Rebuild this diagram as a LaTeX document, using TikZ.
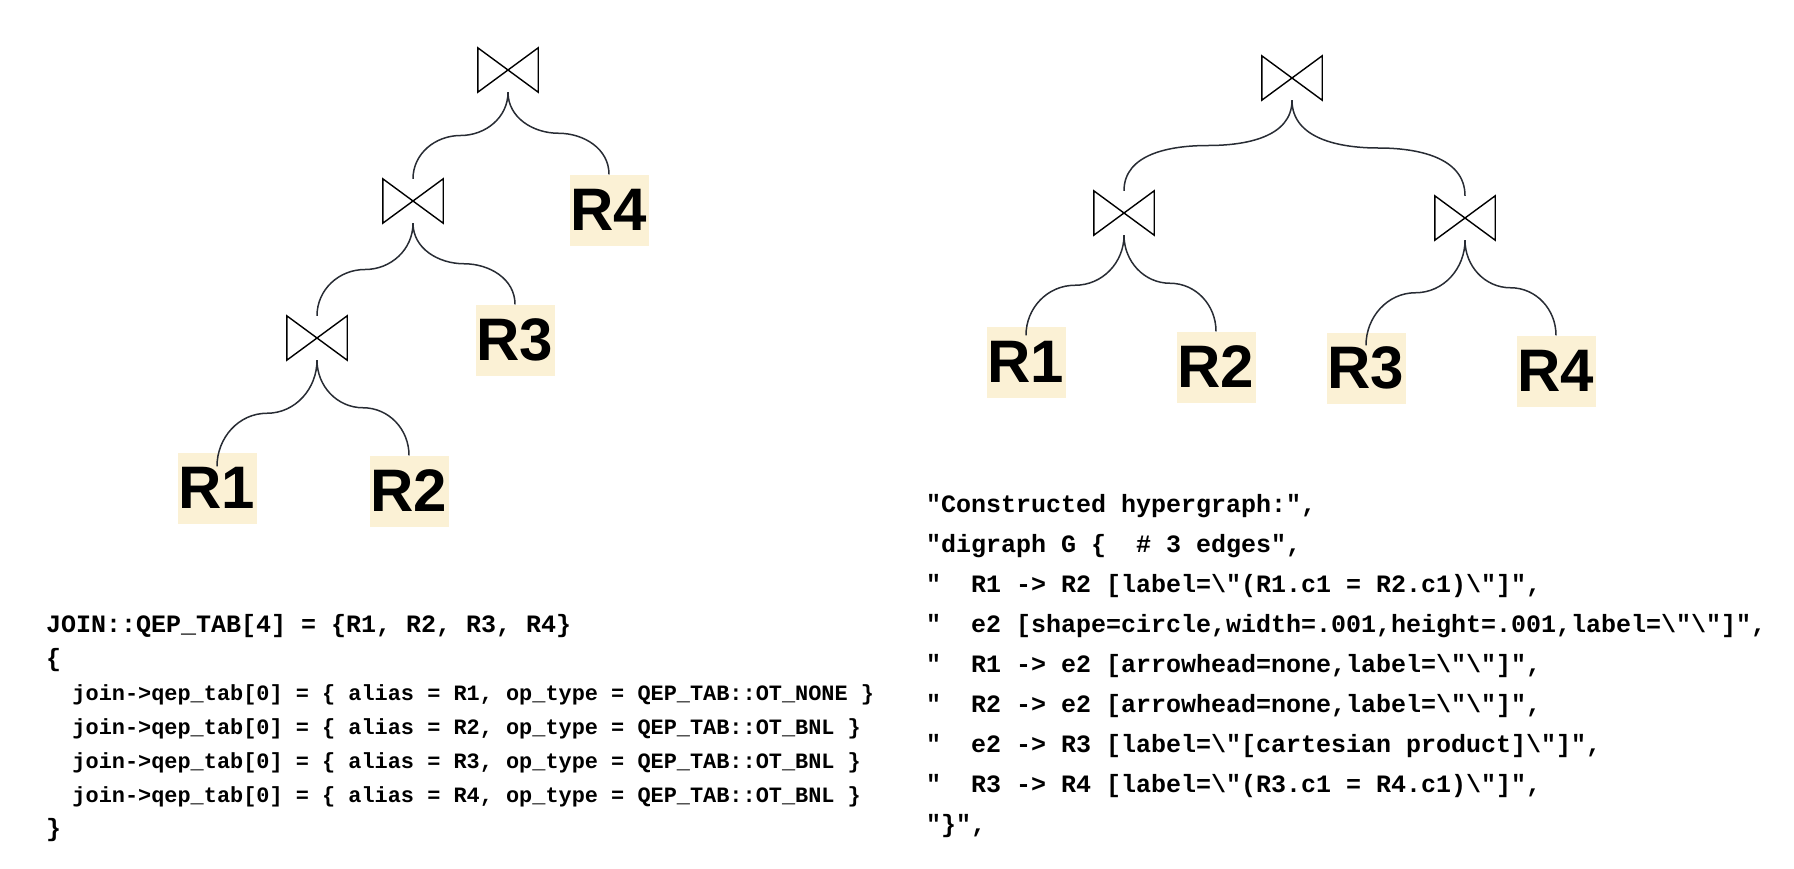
\documentclass[tikz,border=0pt]{standalone}
\usepackage{fontspec}
\setmainfont{Liberation Sans}
\newfontfamily\codefont{Liberation Mono}
\usetikzlibrary{calc}
\definecolor{relfill}{RGB}{251,241,213}
\definecolor{conncol}{RGB}{40,44,52}
\tikzset{
  rel/.style={fill=relfill, minimum width=79pt, minimum height=71pt, inner sep=0pt,
    font=\fontsize{60}{60}\selectfont\bfseries},
  joinop/.style={minimum width=60pt, minimum height=44pt, inner sep=0pt},
  bowline/.style={line width=1.4pt, line join=miter},
  conn/.style={line width=1.5pt, draw=conncol},
  codebig/.style={anchor=base west, inner sep=0pt, font=\codefont\bfseries\fontsize{25}{25}\selectfont},
  codesmall/.style={anchor=base west, inner sep=0pt, font=\codefont\bfseries\fontsize{21.9}{21.9}\selectfont},
}
\newcommand\leftbranch[2]{\draw[conn] (#1) to[out=-90,in=0] ($(#1)!.5!(#2)$) to[out=180,in=90] (#2);}
\newcommand\rightbranch[2]{\draw[conn] (#1) to[out=-90,in=180] ($(#1)!.5!(#2)$) to[out=0,in=90] (#2);}
\begin{document}
\begin{tikzpicture}[x=1pt,y=-1pt]
\useasboundingbox (0,0) rectangle (1794,868);
% left tree
\node[joinop] (LJ1) at (508,70) {};
\node[joinop] (LJ2) at (413,201) {};
\node[joinop] (LJ3) at (317,338) {};
\node[rel] (LR4) at (609,210) {R4};
\node[rel] (LR3) at (515,340) {R3};
\node[rel] (LR1) at (217,488) {R1};
\node[rel] (LR2) at (409,491) {R2};
\coordinate (LR1t) at ([yshift=-14pt]LR1.north);
% right tree
\node[joinop] (RJ1) at (1292,78) {};
\node[joinop] (RJ2) at (1124,213) {};
\node[joinop] (RJ3) at (1465,218) {};
\node[rel] (RR1) at (1026,362) {R1};
\node[rel] (RR2) at (1216,367) {R2};
\node[rel] (RR3) at (1366,368) {R3};
\node[rel] (RR4) at (1556,371) {R4};
\coordinate (RR1t) at ([yshift=-9pt]RR1.north);
\coordinate (RR3t) at ([yshift=-13pt]RR3.north);
% bowties
\foreach \n in {LJ1,LJ2,LJ3,RJ1,RJ2,RJ3}
  \draw[bowline] (\n.north west) -- (\n.south east) -- (\n.north east) -- (\n.south west) -- cycle;
% connectors
\leftbranch{LJ1.south}{LJ2.north}
\rightbranch{LJ1.south}{LR4.north}
\leftbranch{LJ2.south}{LJ3.north}
\rightbranch{LJ2.south}{LR3.north}
\leftbranch{LJ3.south}{LR1t}
\rightbranch{LJ3.south}{LR2.north}
\leftbranch{RJ1.south}{RJ2.north}
\rightbranch{RJ1.south}{RJ3.north}
\leftbranch{RJ2.south}{RR1t}
\rightbranch{RJ2.south}{RR2.north}
\leftbranch{RJ3.south}{RR3t}
\rightbranch{RJ3.south}{RR4.north}
% left code
\node[codebig] (c1) at (46,632) {JOIN::QEP\_TAB[4] = \{R1, R2, R3, R4\}};
\node[codebig] (c2) at (46,666) {\{};
\node[codesmall] (c3) at (46,700) {\ \ join->qep\_tab[0] = \{ alias = R1, op\_type = QEP\_TAB::OT\_NONE \}};
\node[codesmall] (c4) at (46,734) {\ \ join->qep\_tab[0] = \{ alias = R2, op\_type = QEP\_TAB::OT\_BNL \}};
\node[codesmall] (c5) at (46,768) {\ \ join->qep\_tab[0] = \{ alias = R3, op\_type = QEP\_TAB::OT\_BNL \}};
\node[codesmall] (c6) at (46,802) {\ \ join->qep\_tab[0] = \{ alias = R4, op\_type = QEP\_TAB::OT\_BNL \}};
\node[codebig] (c7) at (46,836) {\}};
% right code
\node[codebig] (d1) at (926,512) {"Constructed hypergraph:",};
\node[codebig] (d2) at (926,552) {"digraph G \{\ \ \# 3 edges",};
\node[codebig] (d3) at (926,592) {"\ \ R1 -> R2 [label=\textbackslash"(R1.c1 = R2.c1)\textbackslash"]",};
\node[codebig] (d4) at (926,632) {"\ \ e2 [shape=circle,width=.001,height=.001,label=\textbackslash"\textbackslash"]",};
\node[codebig] (d5) at (926,672) {"\ \ R1 -> e2 [arrowhead=none,label=\textbackslash"\textbackslash"]",};
\node[codebig] (d6) at (926,712) {"\ \ R2 -> e2 [arrowhead=none,label=\textbackslash"\textbackslash"]",};
\node[codebig] (d7) at (926,752) {"\ \ e2 -> R3 [label=\textbackslash"[cartesian product]\textbackslash"]",};
\node[codebig] (d8) at (926,792) {"\ \ R3 -> R4 [label=\textbackslash"(R3.c1 = R4.c1)\textbackslash"]",};
\node[codebig] (d9) at (926,832) {"\}",};
\end{tikzpicture}
\end{document}
